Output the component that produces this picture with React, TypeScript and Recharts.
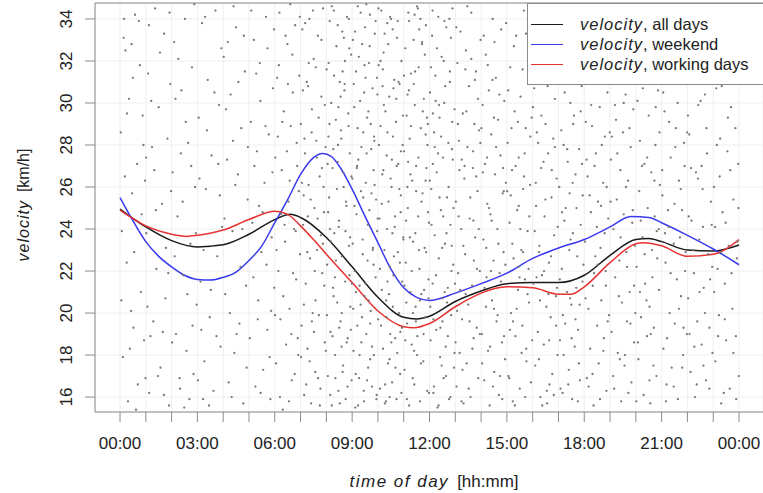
import React from "react";
import {
  ComposedChart,
  Scatter,
  Line,
  XAxis,
  YAxis,
  CartesianGrid,
  ReferenceLine,
} from "recharts";

// hours of the day (every hour gets a tick, every third one a label)
const hourTicks = [0, 1, 2, 3, 4, 5, 6, 7, 8, 9, 10, 11, 12, 13, 14, 15, 16, 17, 18, 19, 20, 21, 22, 23, 24];
const velocityTicks = [16, 18, 20, 22, 24, 26, 28, 30, 32, 34];

// smoothed velocity curves, [hour, km/h]
const allDays = [
  [0, 24.95], [1, 24.1], [2, 23.45], [3, 23.15], [4, 23.25], [5, 23.75], [6, 24.45], [6.6, 24.7],
  [7, 24.55], [8, 23.6], [9, 22.2], [10, 20.75], [11, 19.8], [11.5, 19.72], [12, 19.85], [13, 20.55],
  [14, 21.05], [15, 21.4], [16, 21.45], [17, 21.45], [18, 21.8], [19, 22.75], [20, 23.5], [20.5, 23.55],
  [21, 23.4], [22, 23.0], [23, 22.95], [24, 23.24],
];
const weekend = [
  [0, 25.5], [0.5, 24.4], [1, 23.4], [1.5, 22.7], [2, 22.2], [2.5, 21.8], [3, 21.6], [3.5, 21.57],
  [4, 21.7], [4.5, 21.95], [5, 22.5], [5.5, 23.2], [6, 24.3], [6.5, 25.4], [7, 26.6], [7.5, 27.4],
  [7.85, 27.6], [8.2, 27.45], [8.5, 27.0], [9, 25.9], [9.5, 24.6], [10, 23.35], [10.5, 22.1], [11, 21.2],
  [11.5, 20.75], [12, 20.6], [13, 20.95], [14, 21.4], [15, 21.9], [16, 22.6], [17, 23.1], [18, 23.5],
  [19, 24.1], [19.8, 24.6], [20.5, 24.55], [21, 24.3], [22, 23.7], [23, 23.05], [24, 22.3],
];
const workingDays = [
  [0, 24.9], [1, 24.15], [2, 23.75], [2.6, 23.65], [3, 23.7], [4, 23.95], [5, 24.45], [6, 24.85],
  [6.5, 24.7], [7, 24.15], [7.5, 23.5], [8, 22.8], [9, 21.45], [10, 20.1], [11, 19.35], [11.4, 19.3],
  [12, 19.5], [13, 20.3], [14, 20.95], [15, 21.25], [16, 21.2], [17, 20.9], [17.5, 20.9], [18, 21.25],
  [19, 22.4], [20, 23.3], [20.3, 23.35], [21, 23.2], [22, 22.7], [23, 22.8], [24, 23.5],
];

// single measurements, [hour, km/h]
const measurementsA = [
  [0.03,28.6],[0.11,17.9],[0.14,33.1],[0.26,22.4],[0.31,15.8],[0.35,30.2],[0.47,25.7],[0.52,19.3],[0.58,34.2],[0.66,27.1],[0.69,16.6],[0.77,31.8],[0.81,21.0],[0.88,29.4],[0.93,18.7],[0.97,26.3],[0.21,32.5],[0.43,20.1],
  [1.02,23.8],[1.09,31.4],[1.13,16.2],[1.24,27.9],[1.29,19.6],[1.36,34.5],[1.41,22.1],[1.5,29.8],[1.57,17.4],[1.63,25.2],[1.71,33.3],[1.76,20.7],[1.84,28.3],[1.9,15.6],[1.95,30.9],[1.18,18.9],
  [2.04,26.7],[2.1,32.9],[2.17,19.0],[2.23,24.6],[2.31,16.9],[2.38,30.6],[2.45,21.8],[2.52,34.0],[2.58,18.2],[2.64,28.1],[2.73,23.3],[2.79,31.7],[2.85,17.1],[2.91,26.0],[2.97,20.4],[2.49,15.5],
  [3.05,29.3],[3.12,21.5],[3.18,33.8],[3.27,17.7],[3.33,25.9],[3.4,31.1],[3.48,19.8],[3.55,27.5],[3.62,16.3],[3.7,34.4],[3.77,22.7],[3.84,29.9],[3.9,18.4],[3.96,24.1],[3.22,15.9],
  [4.02,32.2],[4.08,20.9],[4.15,27.3],[4.21,16.7],[4.29,30.4],[4.36,23.9],[4.43,18.1],[4.5,33.6],[4.57,26.6],[4.63,19.5],[4.7,28.8],[4.78,15.7],[4.84,31.5],[4.89,21.3],[4.95,25.4],[4.4,34.6],
  [5.03,18.8],[5.07,29.1],[5.13,24.3],[5.19,33.0],[5.25,16.5],[5.31,27.7],[5.36,20.6],[5.42,31.9],[5.48,22.9],[5.55,17.3],[5.6,26.2],[5.66,34.1],[5.71,19.2],[5.77,28.5],[5.83,15.9],[5.88,23.6],[5.93,30.7],[5.98,21.2],[5.39,25.1],[5.72,32.6],
  [6.02,27.4],[6.05,17.6],[6.09,31.2],[6.14,22.0],[6.18,34.3],[6.22,19.7],[6.27,26.8],[6.31,15.4],[6.35,29.6],[6.4,23.4],[6.44,18.5],[6.49,32.8],[6.53,25.3],[6.57,20.2],[6.62,28.9],[6.66,16.8],[6.7,30.5],[6.75,24.0],[6.79,33.7],[6.83,21.6],[6.87,27.0],[6.91,18.0],[6.95,31.3],[6.98,22.8],[6.6,34.7],[6.25,24.7],
  [7.01,29.0],[7.04,19.4],[7.07,33.5],[7.1,24.2],[7.14,16.1],[7.17,27.6],[7.2,21.4],[7.24,31.0],[7.27,18.3],[7.31,26.1],[7.34,34.0],[7.37,22.6],[7.41,15.7],[7.44,29.7],[7.47,20.0],[7.51,32.1],[7.54,25.0],[7.57,17.2],[7.61,28.2],[7.64,23.0],[7.67,33.2],[7.71,19.9],[7.74,26.5],[7.77,16.4],[7.81,30.3],[7.84,21.9],[7.87,34.5],[7.91,24.8],[7.94,18.6],[7.97,27.9],[7.29,30.8],[7.58,20.6],[7.79,23.7],[7.12,25.6],
  [8.01,31.6],[8.03,22.3],[8.06,17.0],[8.08,28.4],[8.11,25.5],[8.13,33.9],[8.16,19.1],[8.19,30.0],[8.21,15.6],[8.24,26.9],[8.26,21.2],[8.29,34.4],[8.31,23.8],[8.34,18.0],[8.37,29.2],[8.39,32.7],[8.42,20.5],[8.44,27.2],[8.47,16.3],[8.49,24.4],[8.52,31.0],[8.55,19.6],[8.57,28.7],[8.6,22.7],[8.62,33.4],[8.65,17.5],[8.67,26.0],[8.7,30.6],[8.73,21.5],[8.75,15.9],[8.78,25.1],[8.8,34.1],[8.83,18.8],[8.85,29.5],[8.88,23.2],[8.91,27.6],[8.93,20.3],[8.96,32.3],[8.98,16.8],[8.14,24.0],[8.45,28.0],[8.59,18.4],[8.72,32.0],[8.9,21.8],
  [9.01,26.4],[9.03,33.0],[9.05,18.2],[9.08,29.8],[9.1,22.0],[9.12,15.5],[9.15,31.5],[9.17,24.7],[9.2,19.4],[9.22,34.6],[9.24,27.3],[9.27,16.9],[9.29,21.3],[9.31,30.1],[9.34,25.8],[9.36,18.6],[9.39,32.8],[9.41,23.5],[9.43,28.6],[9.46,15.8],[9.48,20.8],[9.5,33.6],[9.53,26.2],[9.55,19.0],[9.58,29.3],[9.6,22.5],[9.62,17.4],[9.65,31.9],[9.67,24.9],[9.69,34.2],[9.72,20.1],[9.74,27.8],[9.77,16.5],[9.79,30.7],[9.81,23.1],[9.84,18.0],[9.86,28.2],[9.88,33.3],[9.91,21.7],[9.93,25.4],[9.95,16.1],[9.98,30.4],[9.19,27.0],[9.33,20.4],[9.52,31.2],[9.7,17.8],[9.83,26.8],[9.97,23.9],
  [10.01,19.7],[10.03,31.8],[10.06,24.5],[10.08,16.4],[10.1,28.9],[10.13,34.4],[10.15,21.1],[10.17,26.6],[10.2,18.3],[10.22,32.4],[10.25,23.0],[10.27,15.7],[10.29,29.6],[10.32,20.6],[10.34,27.5],[10.36,33.8],[10.39,17.6],[10.41,25.3],[10.44,30.3],[10.46,22.2],[10.48,19.0],[10.51,34.0],[10.53,26.0],[10.55,16.7],[10.58,28.4],[10.6,21.8],[10.63,31.1],[10.65,24.1],[10.67,18.8],[10.7,29.1],[10.72,15.9],[10.74,33.1],[10.77,22.9],[10.79,27.1],[10.82,20.0],[10.84,30.9],[10.86,17.1],[10.89,25.6],[10.91,32.0],[10.93,19.3],[10.96,28.0],[10.98,23.6],[10.18,30.8],[10.37,21.5],[10.57,33.5],[10.75,18.1],[10.88,24.8],[10.45,16.0],
  [11.01,27.7],[11.03,17.3],[11.06,32.6],[11.08,22.4],[11.11,29.4],[11.13,19.5],[11.16,25.0],[11.18,34.3],[11.21,15.6],[11.23,28.3],[11.26,21.0],[11.28,31.4],[11.31,18.5],[11.33,26.3],[11.36,23.4],[11.38,33.0],[11.41,16.6],[11.43,29.9],[11.46,20.3],[11.48,27.0],[11.51,34.6],[11.53,18.9],[11.56,24.6],[11.58,31.7],[11.61,22.1],[11.63,15.8],[11.66,28.8],[11.68,20.9],[11.71,32.9],[11.73,25.7],[11.76,17.7],[11.78,30.2],[11.81,23.1],[11.83,19.8],[11.86,33.7],[11.88,26.9],[11.91,16.3],[11.93,29.0],[11.96,21.6],[11.98,24.3],[11.2,30.6],[11.45,23.8],[11.65,34.0],[11.85,28.5],[11.4,18.2],[11.1,20.5],
  [12.02,30.5],[12.04,18.7],[12.07,25.9],[12.1,33.2],[12.12,21.4],[12.15,16.2],[12.18,28.6],[12.2,23.7],[12.23,31.3],[12.26,19.2],[12.28,26.7],[12.31,15.5],[12.34,34.1],[12.36,22.6],[12.39,29.3],[12.41,17.9],[12.44,24.9],[12.47,32.2],[12.49,20.7],[12.52,27.4],[12.55,16.9],[12.57,30.0],[12.6,23.3],[12.63,18.4],[12.65,33.6],[12.68,25.5],[12.71,21.2],[12.73,28.1],[12.76,15.9],[12.79,31.0],[12.81,24.2],[12.84,19.9],[12.87,27.8],[12.89,34.5],[12.92,22.3],[12.95,17.4],[12.97,29.7],[12.13,27.1],[12.5,19.6],[12.83,33.1],
  [13.02,25.3],[13.05,16.5],[13.08,31.9],[13.11,21.9],[13.14,28.2],[13.17,18.1],[13.2,33.4],[13.23,24.0],[13.26,19.7],[13.29,29.5],[13.32,15.7],[13.35,26.4],[13.38,22.8],[13.41,32.5],[13.44,17.6],[13.47,27.9],[13.5,20.4],[13.53,30.8],[13.56,24.5],[13.59,16.0],[13.62,34.3],[13.65,21.3],[13.68,26.9],[13.71,18.8],[13.74,29.0],[13.77,23.6],[13.8,31.5],[13.83,19.3],[13.86,25.8],[13.89,16.9],[13.92,28.7],[13.95,22.0],[13.98,33.0],[13.4,20.9],[13.7,24.4],[13.25,27.3],
  [14.03,19.0],[14.06,29.9],[14.09,23.5],[14.12,16.8],[14.15,27.1],[14.18,32.3],[14.21,21.7],[14.24,25.2],[14.27,18.2],[14.3,30.6],[14.33,15.6],[14.36,24.7],[14.39,28.5],[14.42,20.6],[14.45,34.0],[14.48,22.5],[14.51,17.2],[14.54,26.6],[14.57,31.2],[14.6,19.6],[14.63,24.0],[14.66,29.2],[14.69,16.1],[14.72,21.9],[14.75,27.5],[14.78,33.5],[14.81,18.6],[14.84,25.7],[14.87,22.9],[14.9,30.1],[14.93,17.8],[14.96,26.2],[14.5,20.2],[14.2,23.1],
  [15.03,28.1],[15.06,17.0],[15.1,24.3],[15.13,31.7],[15.16,20.0],[15.2,26.8],[15.23,15.8],[15.26,22.6],[15.3,29.6],[15.33,18.9],[15.36,33.2],[15.4,24.9],[15.43,21.1],[15.46,27.4],[15.5,16.4],[15.53,30.3],[15.56,23.0],[15.6,19.4],[15.63,25.9],[15.66,34.4],[15.7,21.6],[15.73,28.8],[15.76,17.7],[15.8,23.9],[15.83,31.0],[15.86,20.5],[15.9,26.1],[15.93,16.7],[15.96,29.3],[15.45,22.2],[15.75,18.3],[15.15,25.6],
  [16.03,21.4],[16.06,30.7],[16.1,17.5],[16.13,25.1],[16.16,28.6],[16.2,19.1],[16.23,33.8],[16.26,23.2],[16.3,16.0],[16.33,26.9],[16.36,21.8],[16.4,31.4],[16.43,18.5],[16.46,24.6],[16.5,29.0],[16.53,20.3],[16.56,15.7],[16.6,27.6],[16.63,22.4],[16.66,32.7],[16.7,19.8],[16.73,25.5],[16.76,17.1],[16.8,28.3],[16.83,23.7],[16.86,30.2],[16.9,20.8],[16.93,26.4],[16.96,18.0],[16.45,34.2],[16.65,16.6],[16.25,22.9],
  [17.03,26.0],[17.06,18.7],[17.1,31.1],[17.13,22.1],[17.16,16.2],[17.2,28.0],[17.23,24.4],[17.26,19.5],[17.3,33.3],[17.33,21.0],[17.36,27.2],[17.4,17.3],[17.43,25.7],[17.46,30.0],[17.5,20.4],[17.53,15.9],[17.56,23.8],[17.6,29.4],[17.63,18.4],[17.66,26.6],[17.7,32.1],[17.73,22.7],[17.76,19.2],[17.8,27.8],[17.83,16.8],[17.86,24.2],[17.9,30.8],[17.93,21.5],[17.96,34.6],[17.45,20.7],[17.7,25.0],[17.2,18.0],
  [18.03,23.4],[18.06,29.1],[18.1,16.9],[18.13,26.5],[18.16,20.2],[18.2,32.8],[18.23,18.3],[18.26,24.8],[18.3,28.9],[18.33,21.3],[18.36,15.6],[18.4,27.0],[18.43,22.7],[18.46,31.6],[18.5,19.4],[18.53,25.3],[18.56,17.6],[18.6,29.8],[18.63,23.1],[18.66,20.6],[18.7,34.3],[18.73,26.2],[18.76,18.8],[18.8,28.4],[18.83,22.0],[18.86,16.3],[18.9,30.5],[18.93,24.5],[18.96,19.9],[18.45,27.6],
  [19.03,27.3],[19.06,19.1],[19.1,31.8],[19.13,24.0],[19.16,16.4],[19.2,21.7],[19.23,29.2],[19.26,25.4],[19.3,18.1],[19.33,33.0],[19.36,22.5],[19.4,26.8],[19.43,15.8],[19.46,20.5],[19.5,28.6],[19.53,24.7],[19.56,17.5],[19.6,30.4],[19.63,22.9],[19.66,19.6],[19.7,26.3],[19.73,34.1],[19.76,21.0],[19.8,27.9],[19.83,16.7],[19.86,24.3],[19.9,29.7],[19.93,18.6],[19.96,23.2],[19.5,32.3],
  [20.03,22.2],[20.06,30.1],[20.1,17.8],[20.13,25.8],[20.16,28.2],[20.2,19.8],[20.23,33.6],[20.26,23.6],[20.3,16.1],[20.33,27.1],[20.36,21.4],[20.4,31.2],[20.43,18.9],[20.46,25.0],[20.5,29.4],[20.53,20.3],[20.56,15.7],[20.6,26.7],[20.63,23.0],[20.66,32.0],[20.7,19.3],[20.73,24.6],[20.76,28.0],[20.8,17.0],[20.83,22.6],[20.86,30.6],[20.9,21.1],[20.93,26.1],
  [21.03,25.6],[21.07,18.3],[21.11,29.6],[21.15,22.4],[21.19,16.6],[21.23,31.9],[21.27,24.1],[21.31,20.0],[21.35,27.4],[21.39,17.4],[21.43,33.9],[21.47,23.3],[21.51,19.5],[21.55,28.8],[21.59,21.6],[21.63,15.9],[21.67,26.3],[21.71,30.9],[21.75,20.8],[21.79,24.9],[21.83,18.0],[21.87,28.1],[21.91,22.0],[21.95,32.6],[21.98,19.0],[21.5,25.2],
  [22.03,20.7],[22.07,28.5],[22.12,17.2],[22.16,24.4],[22.2,31.3],[22.25,21.9],[22.29,16.0],[22.33,26.7],[22.38,19.6],[22.42,29.9],[22.46,23.5],[22.5,34.2],[22.55,18.5],[22.59,25.9],[22.63,21.2],[22.68,30.4],[22.72,16.8],[22.76,27.6],[22.81,22.8],[22.85,19.3],[22.89,32.7],[22.94,24.2],[22.97,18.1],[22.55,27.0],
  [23.03,26.0],[23.08,17.7],[23.12,30.7],[23.17,22.1],[23.22,19.9],[23.27,28.3],[23.31,15.7],[23.36,24.8],[23.41,33.1],[23.45,21.4],[23.5,18.7],[23.55,27.7],[23.6,23.2],[23.64,16.4],[23.69,29.8],[23.74,20.2],[23.78,25.4],[23.83,31.7],[23.88,18.9],[23.92,22.6],[23.97,27.1],[23.99,17.0],
];

const measurementsB = [
  [0.07,23.9],[0.45,32.8],[0.19,26.5],[0.62,15.4],[0.84,24.7],[0.38,18.3],[0.73,33.9],[0.05,20.6],[0.91,28.0],[0.55,22.9],[0.27,29.5],[0.99,16.9],[0.16,34.0],[0.5,31.2],
  [1.33,26.8],[1.06,20.3],[1.78,23.1],[1.47,17.0],[1.92,34.3],[1.21,30.1],[1.66,19.1],[1.55,32.4],[1.01,27.4],[1.87,21.9],[1.39,24.9],[1.12,33.7],[1.7,16.1],[1.98,25.8],
  [2.55,29.1],[2.12,22.7],[2.88,34.7],[2.36,27.6],[2.69,15.9],[2.02,18.6],[2.94,23.8],[2.26,32.1],[2.61,20.9],[2.43,25.3],[2.81,19.4],[2.15,30.2],[2.76,27.0],[2.33,16.4],
  [3.58,23.2],[3.08,26.4],[3.93,32.6],[3.45,15.6],[3.66,30.5],[3.15,19.2],[3.81,27.1],[3.3,34.1],[3.52,21.1],[3.02,16.8],[3.74,18.9],[3.37,28.7],[3.87,25.6],[3.24,23.0],
  [4.67,22.2],[4.11,29.7],[4.91,17.4],[4.47,26.1],[4.26,20.0],[4.8,33.2],[4.05,24.5],[4.59,31.0],[4.33,16.0],[4.96,27.9],[4.18,32.9],[4.74,24.0],[4.52,19.0],[4.38,28.2],
  [5.17,21.7],[5.64,28.9],[5.45,16.2],[5.91,26.7],[5.28,31.4],[5.8,17.9],[5.09,34.4],[5.53,24.8],[5.34,19.7],[5.97,33.5],[5.68,22.3],[5.21,27.0],[5.86,20.1],[5.44,30.1],
  [6.33,20.8],[6.12,28.4],[6.77,17.1],[6.51,30.9],[6.93,25.8],[6.07,23.0],[6.42,33.2],[6.64,19.0],[6.85,28.1],[6.2,16.0],[6.58,26.3],[6.97,34.1],[6.38,24.2],[6.71,21.9],[6.16,31.8],[6.89,18.8],[6.47,27.7],[6.01,19.9],[6.81,23.9],[6.29,29.1],[6.55,15.8],[6.68,32.3],
  [7.52,19.1],[7.09,30.6],[7.83,26.9],[7.35,17.7],[7.66,24.5],[7.18,33.8],[7.92,21.3],[7.43,28.6],[7.26,22.9],[7.75,15.6],[7.05,26.2],[7.59,31.7],[7.98,18.2],[7.39,25.4],[7.13,20.4],[7.7,29.3],[7.48,34.4],[7.87,23.3],[7.22,16.6],[7.63,27.4],[7.32,31.9],[7.02,17.9],[7.81,33.0],[7.55,22.0],[7.94,29.9],[7.15,28.3],[7.44,19.6],[7.68,16.9],[7.28,24.6],[7.89,26.0],
  [8.41,25.9],[8.02,19.9],[8.68,33.1],[8.27,27.8],[8.92,23.6],[8.15,16.1],[8.55,30.3],[8.33,21.7],[8.79,18.6],[8.09,31.9],[8.48,24.1],[8.86,28.9],[8.21,34.6],[8.63,17.2],[8.97,26.5],[8.37,22.5],[8.71,30.9],[8.05,27.1],[8.52,15.7],[8.89,32.6],[8.18,23.4],[8.6,20.0],[8.76,25.3],[8.3,31.3],[8.95,19.2],[8.44,33.7],[8.12,29.0],[8.66,26.7],[8.82,16.5],[8.24,18.9],[8.58,28.3],[8.35,16.9],[8.99,21.4],[8.47,29.8],[8.74,23.9],[8.07,24.8],[8.63,31.5],[8.28,20.8],[8.87,34.0],[8.5,19.3],
  [9.26,32.2],[9.64,20.6],[9.09,25.1],[9.47,30.5],[9.83,22.3],[9.14,17.1],[9.56,27.6],[9.91,33.9],[9.38,19.8],[9.72,29.0],[9.02,23.3],[9.45,16.3],[9.87,26.1],[9.21,28.8],[9.61,24.2],[9.33,34.3],[9.77,18.4],[9.06,30.9],[9.52,21.4],[9.94,15.9],[9.18,26.9],[9.68,32.7],[9.41,22.8],[9.85,28.4],[9.29,18.0],[9.75,25.7],[9.11,33.4],[9.58,16.8],[9.99,24.5],[9.36,27.9],[9.7,19.5],[9.04,20.2],[9.48,31.8],[9.8,23.0],[9.23,15.6],[9.63,29.6],[9.43,25.5],[9.96,31.2],[9.15,21.0],[9.55,34.7],
  [10.35,24.0],[10.71,30.2],[10.12,19.4],[10.54,27.3],[10.91,16.2],[10.26,33.3],[10.62,22.7],[10.04,28.0],[10.45,17.8],[10.83,25.9],[10.19,31.6],[10.58,20.3],[10.97,29.4],[10.31,15.8],[10.77,33.9],[10.08,22.1],[10.49,26.4],[10.87,19.1],[10.23,29.9],[10.66,24.6],[10.4,32.8],[10.94,21.5],[10.15,25.2],[10.52,18.6],[10.8,31.0],[10.02,34.5],[10.43,20.9],[10.73,27.0],[10.28,16.6],[10.6,30.7],[10.99,23.5],[10.21,26.8],[10.68,17.4],[10.37,28.6],[10.85,22.4],[10.1,32.0],[10.56,23.8],[10.89,27.7],[10.33,19.8],[10.47,34.1],
  [11.44,31.5],[11.09,24.4],[11.77,19.0],[11.26,26.6],[11.6,33.5],[11.03,21.3],[11.92,28.0],[11.35,16.9],[11.69,25.3],[11.15,30.4],[11.52,18.0],[11.87,22.9],[11.21,33.9],[11.57,27.4],[11.98,16.2],[11.31,22.0],[11.74,29.6],[11.06,18.7],[11.48,25.8],[11.82,32.3],[11.17,27.2],[11.63,20.6],[11.39,30.9],[11.94,24.8],[11.12,15.9],[11.55,34.5],[11.79,21.1],[11.28,28.9],[11.67,17.6],[11.01,31.3],[11.47,19.6],[11.85,26.3],[11.24,23.6],[11.71,32.8],[11.36,20.0],[11.9,29.3],[11.14,26.0],[11.59,23.0],[11.96,20.7],[11.42,34.2],
  [12.33,27.6],[12.71,18.9],[12.06,31.7],[12.49,23.1],[12.88,29.1],[12.17,16.5],[12.58,33.9],[12.25,21.8],[12.93,25.0],[12.42,19.3],[12.79,31.5],[12.01,26.3],[12.64,17.0],[12.37,29.9],[12.85,22.0],[12.12,34.4],[12.53,24.6],[12.97,18.1],[12.29,32.6],[12.68,20.5],[12.08,24.2],[12.45,28.4],[12.81,16.0],[12.2,27.9],[12.61,30.8],[12.99,21.4],[12.35,15.6],[12.74,26.0],[12.15,19.7],[12.55,32.0],[12.9,27.3],[12.24,30.1],[12.66,23.8],[12.03,20.3],[12.47,17.5],[12.77,34.0],[12.39,25.5],[12.86,23.2],[12.13,29.5],[12.59,21.0],
  [13.43,29.6],[13.07,20.1],[13.81,26.5],[13.28,17.3],[13.62,32.1],[13.13,24.6],[13.95,19.0],[13.36,27.0],[13.72,22.5],[13.04,33.6],[13.52,16.4],[13.88,30.2],[13.19,21.1],[13.58,25.5],[13.97,28.1],[13.31,23.2],[13.66,18.3],[13.1,29.0],[13.47,34.6],[13.84,22.1],[13.24,15.8],[13.76,31.1],[13.55,19.6],[13.16,26.8],[13.91,24.0],[13.39,31.6],[13.69,27.7],[13.01,18.6],
  [14.52,32.9],[14.13,21.2],[14.88,25.8],[14.35,18.4],[14.71,30.4],[14.07,26.7],[14.46,16.5],[14.94,22.3],[14.26,31.8],[14.64,19.9],[14.01,28.8],[14.41,24.4],[14.82,15.9],[14.19,20.3],[14.58,27.9],[14.97,33.8],[14.31,25.0],[14.77,21.5],[14.1,33.2],[14.5,29.3],[14.89,18.9],[14.23,27.4],[14.67,23.3],[14.04,17.6],[14.44,31.1],[14.85,26.9],[14.38,22.0],[14.73,17.0],
  [15.61,31.6],[15.12,19.2],[15.87,24.6],[15.34,27.0],[15.71,16.0],[15.05,30.6],[15.49,21.7],[15.94,34.0],[15.21,23.3],[15.57,18.1],[15.01,25.8],[15.43,29.1],[15.8,20.9],[15.27,32.7],[15.66,26.5],[15.09,16.9],[15.52,24.0],[15.91,28.4],[15.38,20.2],[15.74,33.3],[15.18,28.8],[15.63,22.9],[15.98,18.7],[15.31,15.6],[15.69,27.6],[15.46,25.1],[15.84,22.1],[15.24,19.6],
  [16.42,27.2],[16.08,23.9],[16.77,33.0],[16.24,17.8],[16.61,20.9],[16.01,29.8],[16.49,25.4],[16.91,19.4],[16.17,31.6],[16.55,16.3],[16.97,24.1],[16.34,29.4],[16.71,22.7],[16.12,26.2],[16.52,32.4],[16.86,27.9],[16.28,20.6],[16.64,18.7],[16.04,33.6],[16.44,22.0],[16.82,16.1],[16.21,28.1],[16.58,30.8],[16.94,21.2],[16.37,15.6],[16.74,26.8],[16.15,21.7],[16.88,31.1],
  [17.47,23.5],[17.11,28.7],[17.79,17.6],[17.28,25.0],[17.62,31.4],[17.05,21.6],[17.91,27.1],[17.38,16.6],[17.71,34.0],[17.17,19.9],[17.55,26.2],[17.97,22.3],[17.24,30.5],[17.66,19.7],[17.01,33.4],[17.42,23.0],[17.86,29.6],[17.34,27.8],[17.75,15.8],[17.14,24.8],[17.51,18.8],[17.94,25.6],[17.31,31.9],[17.69,21.2],[17.08,16.4],[17.57,29.0],[17.82,20.4],[17.21,32.7],
  [18.52,22.3],[18.14,31.1],[18.87,26.0],[18.32,17.1],[18.68,28.0],[18.05,20.7],[18.44,33.4],[18.79,23.8],[18.21,25.6],[18.61,15.9],[18.96,30.9],[18.38,21.9],[18.74,18.2],[18.09,27.3],[18.49,24.1],[18.91,19.6],[18.27,29.9],[18.57,33.0],[18.84,21.3],[18.17,16.5],[18.65,25.1],[18.99,28.6],
  [19.41,23.6],[19.07,28.4],[19.79,19.5],[19.24,32.6],[19.62,26.0],[19.12,17.0],[19.53,30.0],[19.88,24.9],[19.34,20.8],[19.71,16.2],[19.02,25.3],[19.47,33.4],[19.93,21.3],[19.19,29.9],[19.58,18.0],[19.84,31.2],[19.28,27.6],[19.66,22.2],[19.05,34.5],[19.38,17.8],[19.75,28.8],[19.98,20.0],
  [20.44,27.4],[20.08,18.6],[20.81,23.9],[20.27,30.7],[20.64,21.7],[20.13,33.9],[20.53,16.8],[20.92,28.6],[20.19,24.4],[20.58,19.0],[20.97,31.7],[20.34,22.8],[20.72,26.3],[20.02,15.8],[20.41,20.6],[20.87,34.2],[20.24,27.0],[20.68,17.5],[20.48,31.9],[20.89,24.0],[20.16,21.0],[20.77,29.8],
  [21.35,21.9],[21.06,30.5],[21.74,25.9],[21.21,18.8],[21.58,34.3],[21.13,23.8],[21.47,16.5],[21.89,27.0],[21.29,29.1],[21.67,20.2],[21.02,26.8],[21.41,33.0],[21.8,17.4],[21.25,24.9],[21.62,30.0],[21.93,22.9],[21.17,15.8],[21.53,27.9],[21.85,19.3],[21.38,31.4],[21.71,23.6],[21.99,28.6],
  [22.41,26.4],[22.08,19.0],[22.77,31.8],[22.23,23.0],[22.62,17.5],[22.02,29.4],[22.47,21.0],[22.91,25.3],[22.31,34.0],[22.68,20.0],[22.14,26.9],[22.55,32.0],[22.96,22.2],[22.36,16.6],[22.74,28.8],[22.18,32.9],[22.6,24.1],[22.85,16.4],[22.27,18.4],[22.51,30.1],[22.88,21.6],[22.05,24.6],
  [23.48,24.3],[23.1,31.9],[23.78,18.1],[23.25,26.5],[23.62,33.6],[23.04,21.0],[23.41,16.2],[23.86,28.8],[23.19,18.9],[23.57,29.3],[23.94,23.4],[23.33,30.8],[23.71,21.9],[23.07,24.1],[23.52,34.1],[23.89,15.9],[23.29,22.9],[23.66,26.8],[23.14,28.0],[23.45,19.7],[23.81,32.2],[23.98,25.0],
];

const legendItems = [
  { label: "all days", color: "#1a1a1a" },
  { label: "weekend", color: "#3a3aee" },
  { label: "working days", color: "#e83232" },
];

const FONT = "'Liberation Sans', Arial, Helvetica, sans-serif";

const toPoints = (rows: number[][]) => rows.map(([h, v]) => ({ h, v }));

const hhmm = (h: number) => `${String(h % 24).padStart(2, "0")}:00`;

function HourTick({ x, y, payload }: any) {
  if (payload.value % 3 !== 0) return <g />;
  return (
    <text x={x} y={y + 25} textAnchor="middle" fontSize={17} fill="#222" fontFamily={FONT}>
      {hhmm(payload.value)}
    </text>
  );
}

function VelocityTick({ x, y, payload }: any) {
  return (
    <text
      transform={`translate(${x - 11},${y}) rotate(-90)`}
      textAnchor="middle"
      fontSize={17}
      fill="#222"
      fontFamily={FONT}
    >
      {payload.value}
    </text>
  );
}

function Dot({ cx, cy }: any) {
  return <circle cx={cx} cy={cy} r={1.15} fill="#777" />;
}

export default function App() {
  const lines = [
    { name: "all days", data: allDays, color: legendItems[0].color },
    { name: "weekend", data: weekend, color: legendItems[1].color },
    { name: "working days", data: workingDays, color: legendItems[2].color },
  ];
  const dots = toPoints([...measurementsA, ...measurementsB]);

  return (
    <div style={{ position: "fixed", left: 0, top: 0, width: 763, height: 493, background: "#fff" }}>
      <ComposedChart width={763} height={493} margin={{ top: 3, right: 0, bottom: 0, left: 0 }}>
        <CartesianGrid stroke="#efefef" strokeWidth={1} />
        <XAxis
          type="number"
          dataKey="h"
          domain={[-0.97, 24.93]}
          ticks={hourTicks}
          interval={0}
          height={81}
          tickSize={10}
          tick={<HourTick />}
          axisLine={{ stroke: "#8a8a8a" }}
          tickLine={{ stroke: "#8a8a8a" }}
          allowDataOverflow
          label={{
            content: () => (
              <text x={434} y={487} textAnchor="middle" fontSize={17} fill="#222" fontFamily={FONT}>
                <tspan fontStyle="italic" letterSpacing={1.5}>time of day</tspan>
                <tspan dx={8}>[hh:mm]</tspan>
              </text>
            ),
          }}
        />
        <YAxis
          type="number"
          dataKey="v"
          domain={[15.29, 34.76]}
          ticks={velocityTicks}
          interval={0}
          width={95}
          tickSize={10}
          tick={<VelocityTick />}
          axisLine={{ stroke: "#8a8a8a" }}
          tickLine={{ stroke: "#8a8a8a" }}
          allowDataOverflow
          label={{
            content: () => (
              <text
                transform="translate(29,205) rotate(-90)"
                textAnchor="middle"
                fontSize={16}
                fill="#222"
                fontFamily={FONT}
              >
                <tspan fontStyle="italic" letterSpacing={1}>velocity</tspan>
                <tspan dx={8}>[km/h]</tspan>
              </text>
            ),
          }}
        />
        <ReferenceLine y={34.76} stroke="#8a8a8a" />
        <Scatter data={dots} shape={<Dot />} isAnimationActive={false} />
        {lines.map((s) => (
          <Line
            key={s.name}
            data={toPoints(s.data)}
            dataKey="v"
            type="monotone"
            stroke={s.color}
            strokeWidth={1.5}
            dot={false}
            activeDot={false}
            isAnimationActive={false}
          />
        ))}
      </ComposedChart>

      <div
        style={{
          position: "absolute",
          left: 527,
          top: 3,
          width: 240,
          height: 80,
          background: "#fff",
          border: "1px solid #8a8a8a",
          fontFamily: FONT,
          fontSize: 16.5,
          color: "#222",
        }}
      >
        {legendItems.map((it, i) => (
          <div key={it.label} style={{ position: "absolute", left: 3, top: 10 + i * 20, height: 20, display: "flex", alignItems: "center", whiteSpace: "nowrap" }}>
            <span style={{ display: "inline-block", width: 32, height: 0, borderTop: `1.4px solid ${it.color}`, marginRight: 17 }} />
            <span>
              <i style={{ letterSpacing: 1 }}>velocity</i>, {it.label}
            </span>
          </div>
        ))}
      </div>
    </div>
  );
}
